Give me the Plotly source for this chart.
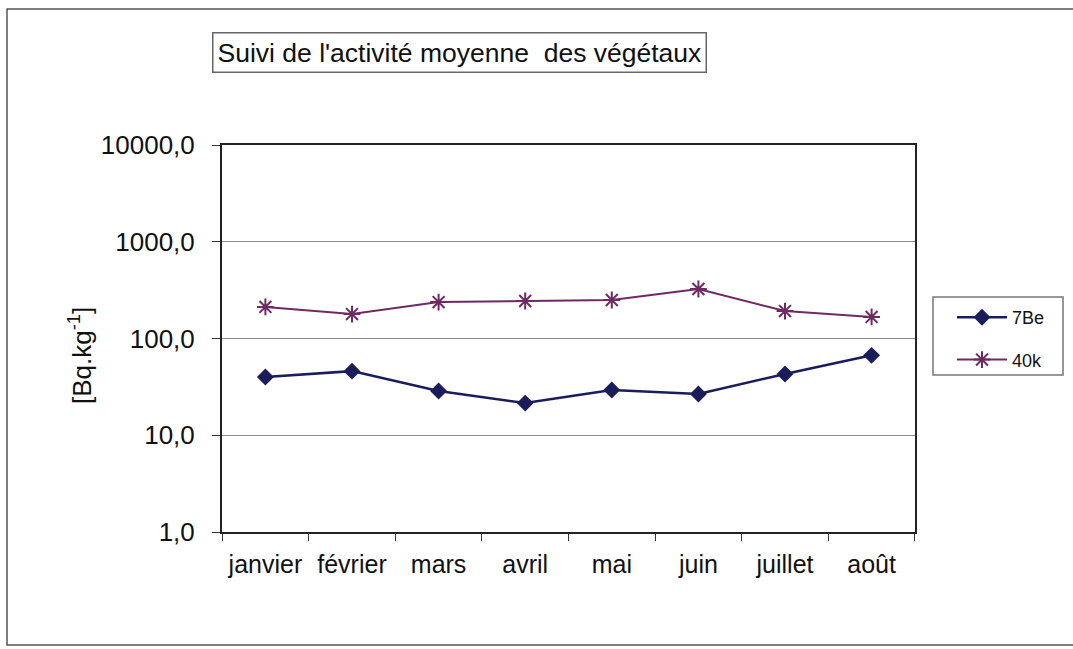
import plotly.graph_objects as go

months = ["janvier", "février", "mars", "avril", "mai", "juin", "juillet", "août"]
be7 = [40, 46, 28.7, 21.5, 29.4, 26.7, 43, 67]
k40 = [212, 179, 238, 244, 250, 325, 192, 167]
y_ticks = [1, 10, 100, 1000, 10000]
y_tick_labels = ["1,0", "10,0", "100,0", "1000,0", "10000,0"]

W, H = 1073, 649
L, R, T, B = 222, 915, 145, 532
pw, ph = R - L, B - T

def px(x):
    return (x - L) / pw

def py(y):
    return (B - y) / ph

FONT = "Liberation Sans, Arial, sans-serif"

fig = go.Figure()
fig.add_trace(go.Scatter(
    x=months, y=be7, name="7Be", mode="lines+markers", legendgroup="a",
    line=dict(color="#1b1d5a", width=2.5),
    marker=dict(symbol="diamond", size=13, color="#1b1d5a"),
))
fig.add_trace(go.Scatter(
    x=months, y=k40, name="40k", mode="lines+markers", legendgroup="b",
    line=dict(color="#6e2a62", width=2),
    marker=dict(symbol="asterisk-open", size=14, color="#6e2a62",
                line=dict(color="#6e2a62", width=2)),
))

fig.update_layout(
    width=W, height=H, autosize=False,
    margin=dict(l=L, r=W - R, t=T, b=H - B, pad=0),
    paper_bgcolor="white", plot_bgcolor="white",
    font=dict(family=FONT, color="#111", size=24),
    showlegend=True,
    legend=dict(x=px(952), y=py(299), xanchor="left", yanchor="top",
                borderwidth=0, bgcolor="rgba(0,0,0,0)",
                font=dict(size=18, family=FONT), itemwidth=50,
                traceorder="grouped", tracegroupgap=16),
)

fig.update_xaxes(
    type="category", tickson="boundaries", ticks="outside", ticklen=7,
    tickcolor="#333", showline=True, linecolor="#222", linewidth=2,
    mirror=True, showgrid=False, tickfont=dict(size=25, family=FONT),
    ticklabelstandoff=9, tickangle=0,
)
fig.update_yaxes(
    type="log", range=[0, 4], tickvals=y_ticks, ticktext=y_tick_labels,
    ticks="outside", ticklen=8, tickcolor="#333",
    showline=True, linecolor="#222", linewidth=2, mirror=True,
    showgrid=True, gridcolor="#8a8a8a", gridwidth=1.2,
    tickfont=dict(size=26, family=FONT), ticklabelstandoff=12,
)

# title box
fig.add_annotation(
    x=px(459), y=py(52), xref="paper", yref="paper",
    xanchor="center", yanchor="middle",
    text="Suivi de l'activité moyenne&nbsp; des végétaux",
    showarrow=False, font=dict(size=26.5, family=FONT, color="#111"),
    bordercolor="#666", borderwidth=1.5, borderpad=4, bgcolor="white",
)
# y title
fig.add_annotation(
    x=px(80), y=py(356), xref="paper", yref="paper",
    xanchor="center", yanchor="middle",
    text="[Bq.kg<sup>-1</sup>]", textangle=-90, showarrow=False,
    font=dict(size=26, family=FONT, color="#111"),
)
# outer frame
fig.add_shape(
    type="rect", xref="paper", yref="paper",
    x0=px(7), x1=px(1078), y0=py(645), y1=py(9),
    line=dict(color="#555", width=1.5), layer="below",
)
# legend frame
fig.add_shape(
    type="rect", xref="paper", yref="paper",
    x0=px(933), x1=px(1063), y0=py(375), y1=py(297),
    line=dict(color="#777", width=1.5), fillcolor="white", layer="below",
)

fig.write_html("out.html", post_script="document.body.style.margin='0';",
               config={"displayModeBar": False})
